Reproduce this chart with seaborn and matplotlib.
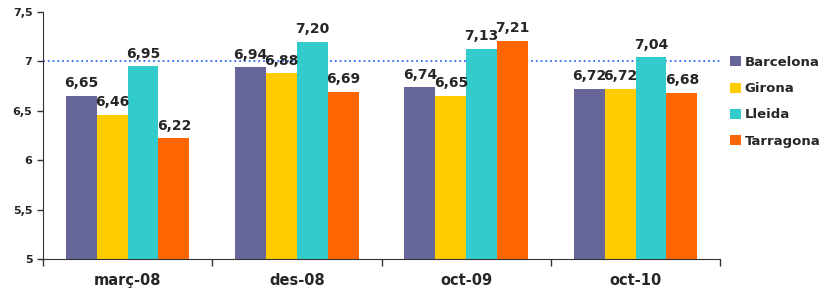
import numpy as np
import pandas as pd
import matplotlib
matplotlib.use("Agg")
import matplotlib.pyplot as plt
import seaborn as sns
from matplotlib.ticker import MultipleLocator, FixedLocator

# dades
periodes = ["març-08", "des-08", "oct-09", "oct-10"]
provincies = ["Barcelona", "Girona", "Lleida", "Tarragona"]
barcelona = [6.65, 6.94, 6.74, 6.72]
girona = [6.46, 6.88, 6.65, 6.72]
lleida = [6.95, 7.20, 7.13, 7.04]
tarragona = [6.22, 6.69, 7.21, 6.68]
colors = ["#666699", "#FFCC00", "#33CCCC", "#FF6600"]
referencia = 7.0

df = pd.DataFrame({
    "periode": periodes * 4,
    "provincia": np.repeat(provincies, 4),
    "valor": barcelona + girona + lleida + tarragona,
})

sns.set_style("white")
plt.rcParams["font.family"] = ["DejaVu Sans"]
plt.rcParams["font.weight"] = "bold"

fig = plt.figure(figsize=(8.25, 2.92), dpi=100)
ax = fig.add_axes([0.052, 0.113, 0.821, 0.846])

sns.barplot(data=df, x="periode", y="valor", hue="provincia",
            hue_order=provincies, palette=colors, width=0.73,
            saturation=1, linewidth=0, ax=ax, legend=True)

for cont in ax.containers:
    lab = [f"{v:.2f}".replace(".", ",") for v in cont.datavalues]
    ax.bar_label(cont, labels=lab, padding=4, fontsize=10, fontweight="bold")

ax.axhline(referencia, color="#3366FF", linestyle=":", linewidth=1.3, zorder=0)

ax.set_ylim(5, 7.5)
ax.set_xlim(-0.5, 3.5)
ax.yaxis.set_major_locator(MultipleLocator(0.5))
ax.set_yticklabels([f"{t:g}".replace(".", ",") for t in ax.get_yticks()])
ax.xaxis.set_minor_locator(FixedLocator([-0.5, 0.5, 1.5, 2.5, 3.5]))
ax.tick_params(axis="x", which="major", length=0, pad=10, labelsize=10.5)
ax.tick_params(axis="x", which="minor", length=5, width=1, color="#333333", direction="out", bottom=True)
ax.tick_params(axis="y", length=4, width=1, color="#333333", direction="out", left=True, labelsize=8)
for t in ax.get_xticklabels() + ax.get_yticklabels():
    t.set_fontweight("bold")

sns.despine(ax=ax)
ax.spines["left"].set_color("#333333")
ax.spines["bottom"].set_color("#333333")
ax.set_xlabel("")
ax.set_ylabel("")

leg = ax.legend(loc="upper left", bbox_to_anchor=(0.997, 0.87), frameon=False,
                handlelength=0.8, handleheight=0.8, handletextpad=0.3,
                labelspacing=1.0, prop={"weight": "bold", "size": 9.5})

fig.savefig("out.png", dpi=100)
